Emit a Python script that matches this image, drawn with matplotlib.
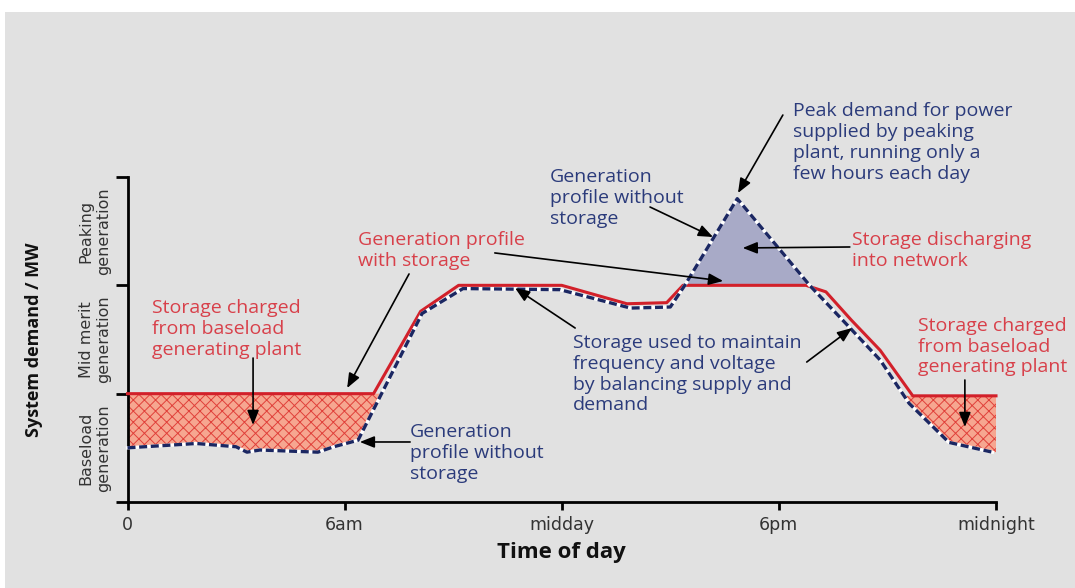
import numpy as np
import matplotlib.pyplot as plt
from matplotlib import font_manager
from matplotlib.patches import Rectangle

# demand levels: 0-1 baseload band, 1-2 mid merit band, 2-3 peaking band
hours_with = [0, 6.8, 8.1, 9.15, 12.0, 13.8, 14.9, 15.35, 18.75, 19.3, 20.0, 20.8, 21.7, 24.0]
with_storage = [1.0, 1.0, 1.76, 2.0, 2.0, 1.83, 1.84, 2.0, 2.0, 1.94, 1.68, 1.40, 0.98, 0.98]

hours_without = [0, 1.9, 3.0, 3.3, 3.66, 5.26, 5.7, 6.37, 8.14, 9.27, 11.95, 13.9, 15.0,
                 15.4, 16.85, 18.85, 19.9, 20.8, 21.6, 22.7, 23.9]
without_storage = [0.50, 0.54, 0.51, 0.46, 0.48, 0.46, 0.51, 0.57, 1.74, 1.97, 1.96, 1.79, 1.80,
                   2.0, 2.80, 2.0, 1.63, 1.31, 0.91, 0.55, 0.46]

tick_hours = [0, 6, 12, 18, 24]
tick_labels = ['0', '6am', 'midday', '6pm', 'midnight']
band_levels = [0.5, 1.5, 2.5]
band_labels = ['Baseload\ngeneration', 'Mid merit\ngeneration', 'Peaking\ngeneration']

RED = '#d2202a'
RED_TXT = '#d8404a'
NAVY = '#1b2762'
NAVY_TXT = '#2b3b7b'

installed = {f.name for f in font_manager.fontManager.ttflist}
narrow = 'Liberation Sans Narrow' if 'Liberation Sans Narrow' in installed else 'DejaVu Sans'
plt.rcParams['font.family'] = ['Open Sans', 'DejaVu Sans']
plt.rcParams['hatch.linewidth'] = 0.7

fig = plt.figure(figsize=(10.75, 5.88), dpi=100)
fig.patch.set_facecolor('white')
fig.patches.append(Rectangle((5 / 1075, 0), 1, 1 - 12 / 588, transform=fig.transFigure,
                             facecolor='#e1e1e1', edgecolor='none', zorder=-10))

ax = fig.add_axes([127.5 / 1075, 1 - 502 / 588, 868.5 / 1075, 325 / 588])
ax.set_facecolor('none')
ax.set_xlim(0, 24)
ax.set_ylim(0, 3)

# shared grid for the shaded areas
x = np.union1d(hours_with, hours_without)
r = np.interp(x, hours_with, with_storage)
b = np.interp(x, hours_without, without_storage)
cap = np.where(x < 12, with_storage[0], with_storage[-1])
upper = np.minimum(r, cap)

ax.fill_between(x, b, upper, where=b < upper, interpolate=True, facecolor='#f6a690',
                edgecolor='#e0403a', hatch='xxx', linewidth=0, zorder=1)
ax.fill_between(x, r, b, where=b > r, interpolate=True, facecolor='#a8aac7',
                linewidth=0, zorder=1)

ax.plot(hours_with, with_storage, color=RED, lw=2.2, zorder=3, clip_on=False)
ax.plot(hours_without, without_storage, color='white', lw=2.4, zorder=4, clip_on=False)
ax.plot(hours_without, without_storage, color=NAVY, lw=2.4, dashes=(2.4, 1.1), zorder=5,
        clip_on=False)

for s in ['top', 'right']:
    ax.spines[s].set_visible(False)
for s in ['left', 'bottom']:
    ax.spines[s].set_linewidth(2)
ax.set_xticks(tick_hours, tick_labels)
ax.set_yticks([0, 1, 2, 3], [])
ax.tick_params(axis='x', direction='out', length=6, width=2, pad=4, labelsize=12.5,
               labelcolor='#333333')
ax.tick_params(axis='y', direction='out', length=9, width=2)
for lab in ax.get_xticklabels():
    lab.set_family([narrow, 'DejaVu Sans'])

for lvl, lab in zip(band_levels, band_labels):
    ax.text(-0.9, lvl, lab, rotation=90, ha='center', va='center', ma='center',
            fontsize=11.5, color='#333333', family=[narrow, 'DejaVu Sans'])

ax.text(-2.58, 1.5, 'System demand / MW', rotation=90, ha='center', va='center',
        fontsize=13, fontweight='bold', color='#111111')
ax.text(12, -0.47, 'Time of day', ha='center', va='center', fontsize=16,
        fontweight='bold', color='#111111')

# annotation texts
txt = dict(fontsize=14, ha='left', va='top')
ax.text(18.39, 3.69, 'Peak demand for power\nsupplied by peaking\nplant, running only a\nfew hours each day',
        color=NAVY_TXT, **txt)
ax.text(11.67, 3.08, 'Generation\nprofile without\nstorage', color=NAVY_TXT, **txt)
ax.text(6.37, 2.50, 'Generation profile\nwith storage', color=RED_TXT, **txt)
ax.text(0.68, 1.87, 'Storage charged\nfrom baseload\ngenerating plant', color=RED_TXT, **txt)
ax.text(7.81, 0.73, 'Generation\nprofile without\nstorage', color=NAVY_TXT, **txt)
ax.text(12.31, 1.55, 'Storage used to maintain\nfrequency and voltage\nby balancing supply and\ndemand',
        color=NAVY_TXT, **txt)
ax.text(20.02, 2.50, 'Storage discharging\ninto network', color=RED_TXT, **txt)
ax.text(21.84, 1.71, 'Storage charged\nfrom baseload\ngenerating plant', color=RED_TXT, **txt)

# arrows: (tail, head)
arrows = [((18.11, 3.572), (16.87, 2.852)),
          ((14.44, 2.723), (16.18, 2.446)),
          ((19.96, 2.354), (17.0, 2.345)),
          ((10.15, 2.299), (16.46, 2.04)),
          ((7.78, 2.105), (6.07, 1.052)),
          ((3.47, 1.329), (3.47, 0.711)),
          ((7.81, 0.554), (6.42, 0.554)),
          ((12.37, 1.606), (10.71, 1.975)),
          ((18.77, 1.292), (20.02, 1.606)),
          ((23.14, 1.126), (23.14, 0.692))]
for tail, head in arrows:
    ax.annotate('', xy=head, xytext=tail, annotation_clip=False, zorder=6,
                arrowprops=dict(arrowstyle='-|>,head_length=0.55,head_width=0.22',
                                mutation_scale=16, color='black', lw=1.2,
                                shrinkA=0, shrinkB=0))

fig.savefig('out.png', dpi=100)
